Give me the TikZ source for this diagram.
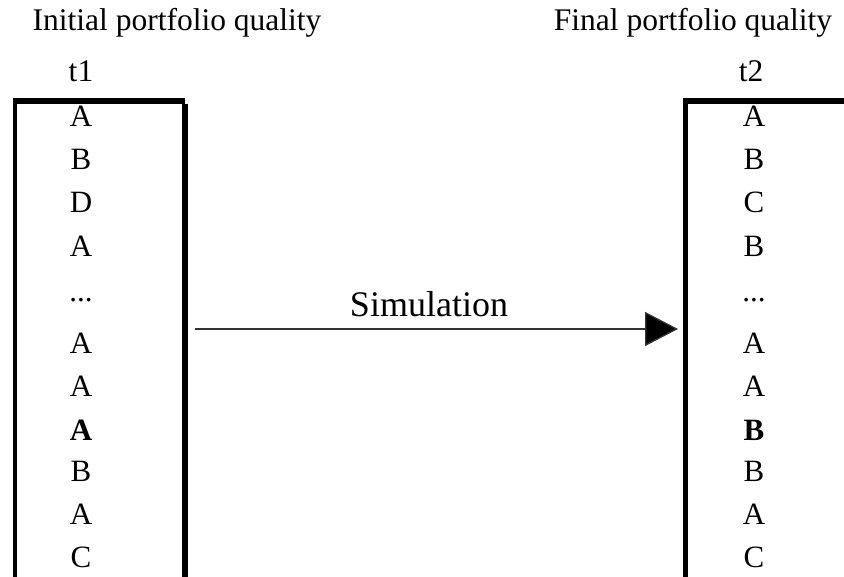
\documentclass[tikz,border=0pt]{standalone}
\usepackage{fontspec}
\setmainfont{Liberation Serif}
\usetikzlibrary{arrows.meta}
\tikzset{
  cell/.style={anchor=base, inner sep=0pt, font=\fontsize{31}{33}\selectfont},
  title/.style={anchor=base, inner sep=0pt, font=\fontsize{31.5}{33}\selectfont},
  bigtext/.style={anchor=base, inner sep=0pt, font=\fontsize{36}{38}\selectfont},
  rule/.style={line width=#1, line cap=butt},
  flow/.style={line width=1.3pt, draw=black!80, -{Triangle[length=33pt,width=34pt,fill=black]}}
}
\begin{document}
\begin{tikzpicture}[x=1pt,y=-1pt]
\useasboundingbox (0,0) rectangle (844,577);
% titles
\node[title] (tl) at (177,31) {Initial portfolio quality};
\node[title] (tr) at (693,31) {Final portfolio quality};
\node[title] (t1) at (81,82) {t1};
\node[title] (t2) at (751,82) {t2};
% left box
\draw[rule=4pt] (15,98) -- (15,577);
\draw[rule=6pt] (13,101) -- (185,101);
\draw[rule=6pt] (184.5,104) -- (184.5,577);
% right box
\draw[rule=5pt] (685.5,98) -- (685.5,577);
\draw[rule=6pt] (683,101) -- (844,101);
% left column
\node[cell] (l1) at (81,127) {A};
\node[cell] (l2) at (81,170) {B};
\node[cell] (l3) at (81,213) {D};
\node[cell] (l4) at (81,257) {A};
\node[cell] (l5) at (81,302) {...};
\node[cell] (l6) at (81,354) {A};
\node[cell] (l7) at (81,397) {A};
\node[cell] (l8) at (81,440) {\bfseries A};
\node[cell] (l9) at (81,482) {B};
\node[cell] (l10) at (81,524) {A};
\node[cell] (l11) at (81,567) {C};
% right column
\node[cell] (r1) at (754,127) {A};
\node[cell] (r2) at (754,170) {B};
\node[cell] (r3) at (754,213) {C};
\node[cell] (r4) at (754,257) {B};
\node[cell] (r5) at (754,302) {...};
\node[cell] (r6) at (754,354) {A};
\node[cell] (r7) at (754,397) {A};
\node[cell] (r8) at (754,440) {\bfseries B};
\node[cell] (r9) at (754,482) {B};
\node[cell] (r10) at (754,524) {A};
\node[cell] (r11) at (754,567) {C};
% arrow
\coordinate (src) at (195,329);
\coordinate (dst) at (678,329);
\draw[flow] (src) -- (dst);
\node[bigtext] (sim) at (429,317) {Simulation};
\end{tikzpicture}
\end{document}
